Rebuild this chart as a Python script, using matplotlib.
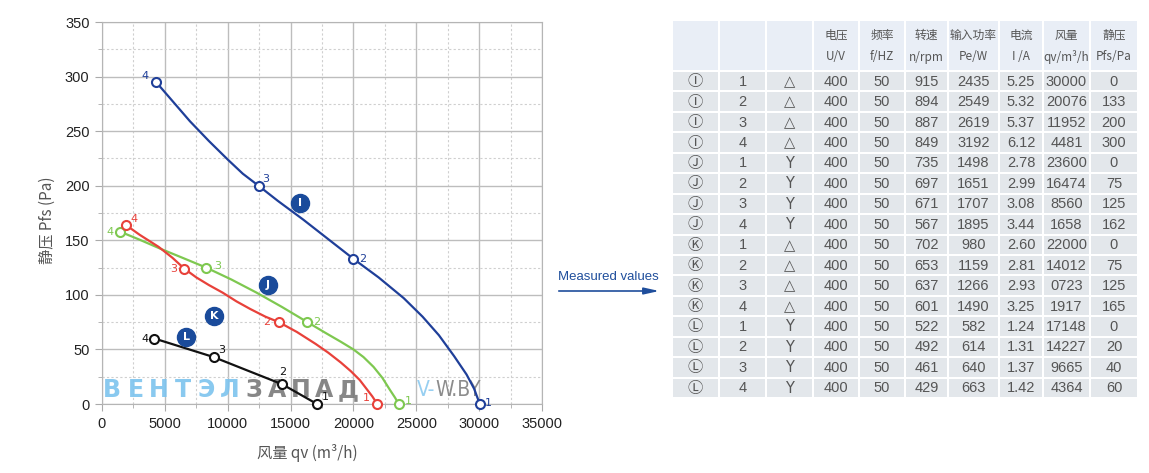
import matplotlib.pyplot as plt
from matplotlib.patches import Rectangle

# curve operating points (1..4)
I_qv = [30050, 20000, 12450, 4300]
I_pfs = [0, 133, 200, 295]
J_qv = [23600, 16340, 8280, 1420]
J_pfs = [0, 75, 125, 158]
K_qv = [21900, 14070, 6550, 1900]
K_pfs = [0, 75, 124, 164]
L_qv = [17100, 14350, 8880, 4170]
L_pfs = [0, 18, 43, 60]

# traced curve shapes
I_curve_x = [4300, 5500, 7000, 8500, 10000, 11200, 12450, 14000, 16000, 18000, 20000,
             22000, 24000, 25500, 26800, 28000, 29000, 29600, 30050]
I_curve_y = [295, 279, 259, 241, 224, 211, 200, 186, 169, 151, 133,
             116, 97, 80, 63, 44, 27, 14, 0]
J_curve_x = [1420, 3000, 4700, 6500, 8280, 10300, 12300, 14300, 16340, 17800, 19000,
             20000, 20800, 21600, 22300, 22900, 23300, 23600]
J_curve_y = [158, 150.5, 142, 133.5, 125, 114, 102, 89, 75, 65, 57,
             50, 43, 34, 24, 13, 6, 0]
K_curve_x = [1900, 3000, 4500, 5600, 6550, 7500, 8500, 9600, 10700, 11800, 13000, 14070,
             15500, 17000, 18000, 19000, 19800, 20500, 21100, 21500, 21900]
K_curve_y = [164, 155, 144, 134, 124, 116, 109, 102, 94, 87, 80, 75,
             66, 55, 47, 38, 30, 22, 13, 7, 0]
L_curve_x = [4170, 8880, 11500, 14350, 17100]
L_curve_y = [60, 43, 31, 18, 0]

point_labels = ['1', '2', '3', '4']

# table data
tbl_curve = ['Ⓘ'] * 4 + ['Ⓙ'] * 4 + ['Ⓚ'] * 4 + ['Ⓛ'] * 4
tbl_point = ['1', '2', '3', '4'] * 4
tbl_conn = ['△'] * 4 + ['Y'] * 4 + ['△'] * 4 + ['Y'] * 4
tbl_volt = ['400'] * 16
tbl_freq = ['50'] * 16
tbl_rpm = ['915', '894', '887', '849', '735', '697', '671', '567',
           '702', '653', '637', '601', '522', '492', '461', '429']
tbl_power = ['2435', '2549', '2619', '3192', '1498', '1651', '1707', '1895',
             '980', '1159', '1266', '1490', '582', '614', '640', '663']
tbl_current = ['5.25', '5.32', '5.37', '6.12', '2.78', '2.99', '3.08', '3.44',
               '2.60', '2.81', '2.93', '3.25', '1.24', '1.31', '1.37', '1.42']
tbl_qv = ['30000', '20076', '11952', '4481', '23600', '16474', '8560', '1658',
          '22000', '14012', '0723', '1917', '17148', '14227', '9665', '4364']
tbl_pfs = ['0', '133', '200', '300', '0', '75', '125', '162',
           '0', '75', '125', '165', '0', '20', '40', '60']
hdr_top = ['', '', '', '电压', '频率', '转速', '输入功率', '电流', '风量', '静压']
hdr_bot = ['', '', '', 'U/V', 'f/HZ', 'n/rpm', 'Pe/W', 'I /A', 'qv/m³/h', 'Pfs/Pa']

NUM = ['Liberation Sans', 'DejaVu Sans']
CJK = ['Noto Sans CJK SC', 'DejaVu Sans']

W, H = 1149, 473
fig = plt.figure(figsize=(W / 100, H / 100), dpi=100)
bg = fig.add_axes([0, 0, 1, 1])
bg.set_xlim(0, W)
bg.set_ylim(H, 0)
bg.axis('off')

ax = fig.add_axes([102 / W, 69 / H, 440 / W, 382 / H])
ax.set_xlim(0, 35000)
ax.set_ylim(0, 350)
ax.set_xticks(range(0, 35001, 5000))
ax.set_xticks(range(0, 35001, 2500), minor=True)
ax.set_yticks(range(0, 351, 50))
ax.set_yticks(range(0, 351, 25), minor=True)
ax.grid(which='major', color='#bdbdbd', lw=1.0)
ax.grid(which='minor', color='#cfcfcf', lw=0.8, ls=(0, (2, 2)))
ax.set_axisbelow(True)
for s in ax.spines.values():
    s.set_color('#b5b5b5')
ax.tick_params(which='major', length=5, color='#aaaaaa', labelsize=10.5,
               labelcolor='#222222', pad=4)
ax.tick_params(which='minor', length=3, color='#aaaaaa')
for t in ax.get_xticklabels() + ax.get_yticklabels():
    t.set_family(NUM)

series = [
    (I_curve_x, I_curve_y, I_qv, I_pfs, '#1f3f99',
     [(6, 1), (7, 0), (5, 5), (-8, 4)]),
    (J_curve_x, J_curve_y, J_qv, J_pfs, '#7ec850',
     [(7, 2), (7, 0), (8, 1), (-7, 0)]),
    (K_curve_x, K_curve_y, K_qv, K_pfs, '#e8413a',
     [(-8, 4), (-9, 0), (-8, 0), (6, 4)]),
    (L_curve_x, L_curve_y, L_qv, L_pfs, '#111111',
     [(6, 5), (0, 9), (6, 5), (-7, 0)]),
]
for cx, cy, px, py, col, offs in series:
    ax.plot(cx, cy, color=col, lw=1.6, zorder=4)
    ax.plot(px, py, 'o', ms=6.5, mfc='white', mec=col, mew=1.5, zorder=5,
            clip_on=False)
    for x, y, lab, (dx, dy) in zip(px, py, point_labels, offs):
        ax.annotate(lab, (x, y), xytext=(dx, dy), textcoords='offset points',
                    ha='center', va='center', fontsize=8, color=col, zorder=6)

badges = {'I': (15740, 184), 'J': (13190, 109), 'K': (8900, 81), 'L': (6700, 61)}
for lab, (bx, by) in badges.items():
    ax.plot(bx, by, 'o', ms=13, color='#1a4b9b', zorder=6)
    ax.text(bx, by, lab, ha='center', va='center', fontsize=8, fontweight='bold',
            color='white', zorder=7)

fig.text(47 / W, 1 - 220 / H, '静压 Pfs (Pa)', rotation=90, ha='center', va='center',
         fontsize=11, color='#555555', family=CJK)
fig.text(307 / W, 1 - 453 / H, '风量 qv (m³/h)', ha='center', va='center',
         fontsize=11, color='#555555', family=CJK)

# watermark
wm = 'ВЕНТЭЛЗАПАД'
for i, ch in enumerate(wm):
    ax.text(112 + i * 23.6, 390, ch, transform=bg.transData, ha='center', va='center',
            fontsize=17, fontweight='bold', color='#7cc3ee' if i < 6 else '#7a7a7a',
            alpha=0.9, zorder=3, family='DejaVu Sans')
t1 = ax.text(417, 390, 'V-', transform=bg.transData, ha='left', va='center',
             fontsize=15, color='#8ccaf0', alpha=0.9, zorder=3,
             family='DejaVu Sans', fontstretch='condensed')
ax.annotate('W.BY', xy=(1, 0), xycoords=t1, ha='left', va='bottom',
            fontsize=15, color='#808080', alpha=0.9, zorder=3,
            family='DejaVu Sans', fontstretch='condensed')

# arrow
bg.text(608, 277, 'Measured values', ha='center', va='center', fontsize=9.5,
        color='#1f4e9c', family=NUM)
bg.annotate('', xy=(662, 291), xytext=(556, 291),
            arrowprops=dict(arrowstyle='-|>,head_length=0.9,head_width=0.2',
                            color='#1f4e9c', lw=1.2))

# table
col_edges = [672, 719, 766, 813, 859, 905, 948, 999, 1043, 1090, 1138]
hdr_y0, hdr_y1, tbl_y1 = 21, 71, 398
nrows = len(tbl_rpm)
rh = (tbl_y1 - hdr_y1) / nrows
cols = [tbl_curve, tbl_point, tbl_conn, tbl_volt, tbl_freq, tbl_rpm,
        tbl_power, tbl_current, tbl_qv, tbl_pfs]
for c in range(len(col_edges) - 1):
    x0, x1 = col_edges[c], col_edges[c + 1]
    xc = (x0 + x1) / 2
    bg.add_patch(Rectangle((x0 + 1, hdr_y0), x1 - x0 - 2, hdr_y1 - hdr_y0 - 1,
                           facecolor='#e9eef6', edgecolor='none'))
    bg.text(xc, 35, hdr_top[c], ha='center', va='center', fontsize=8.5,
            color='#555555', family=CJK)
    bg.text(xc, 57, hdr_bot[c], ha='center', va='center', fontsize=8.5,
            color='#555555', family=CJK)
    for r in range(nrows):
        y0 = hdr_y1 + r * rh
        bg.add_patch(Rectangle((x0 + 1, y0 + 1), x1 - x0 - 2, rh - 2,
                               facecolor='#e3e7eb', edgecolor='none'))
        if c == 0:
            fam, fs = CJK, 11
        elif c == 2:
            fam, fs = ['DejaVu Sans'], 10.5
        else:
            fam, fs = NUM, 10.5
        bg.text(xc, y0 + rh / 2 + 0.5, cols[c][r], ha='center', va='center',
                fontsize=fs, color='#555555', family=fam)

fig.savefig('out.png', dpi=100)
